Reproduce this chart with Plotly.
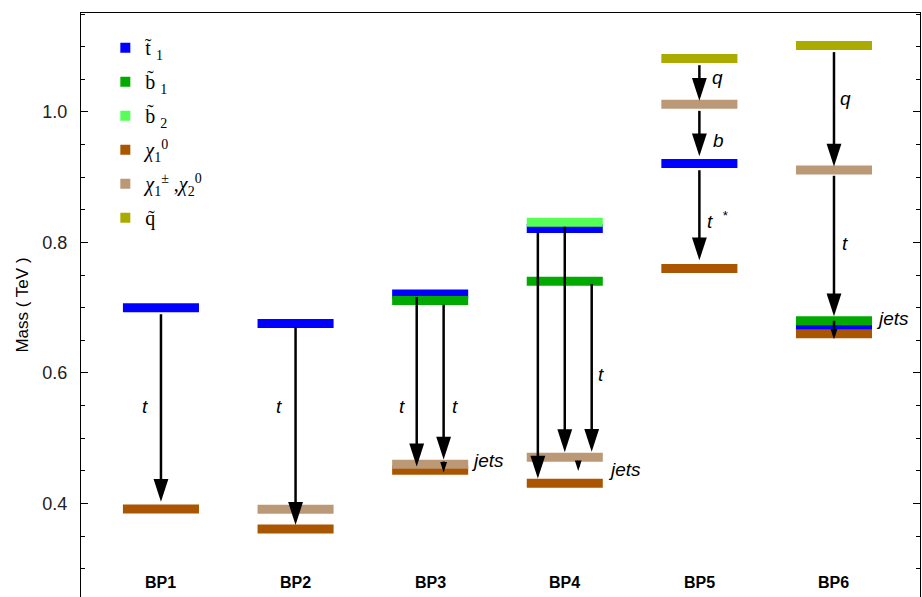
import plotly.graph_objects as go

# ---------------- data ----------------
bp_labels = ["BP1", "BP2", "BP3", "BP4", "BP5", "BP6"]
stop1 = [0.700, 0.676, 0.721, 0.8215, 0.921, 0.671]          # t~_1
sbottom1 = [None, None, 0.711, 0.7405, None, 0.680]            # b~_1
sbottom2 = [None, None, None, 0.831, None, None]               # b~_2
neutralino1 = [0.3915, 0.361, 0.451, 0.431, 0.760, 0.660]      # chi_1^0
chargino = [None, 0.391, 0.460, 0.471, 1.012, 0.911]           # chi_1^+-, chi_2^0
squark = [None, None, None, None, 1.082, 1.102]                # q~

y_ticks = [0.4, 0.6, 0.8, 1.0]
y_range = [0.2567, 1.1517]
x_range = [0.406, 6.639]

series = {
    "stop1": stop1, "sb1": sbottom1, "sb2": sbottom2,
    "neut": neutralino1, "char": chargino, "sq": squark,
}
legend_names = {
    "stop1": "t\u0303 <sub>1</sub>",
    "sb1": "b\u0303 <sub>1</sub>",
    "sb2": "b\u0303 <sub>2</sub>",
    "neut": "<i>\u03c7</i><sub>1</sub><sup>0</sup>",
    "char": "<i>\u03c7</i><sub>1</sub><sup>\u00b1</sup> ,<i>\u03c7</i><sub>2</sub><sup>0</sup>",
    "sq": "q\u0303",
}
colors = {
    "stop1": "#0000FF", "sb1": "#00AA00", "sb2": "#55FF55",
    "neut": "#AA5500", "char": "#BB9977", "sq": "#AAAA00",
}
order = ["stop1", "sb1", "sb2", "neut", "char", "sq"]

# decays: (bp index, x offset, parent, child, tail offset px, tip offset px, kind)
decays = [
    (0, 0.0, "stop1", "neut", 6.5, 7.3, "big"),
    (1, 0.0, "stop1", "neut", 4.2, 4.0, "big"),
    (2, -0.1, "stop1", "neut", 3.0, 3.8, "big"),
    (2, 0.1, "sb1", "char", 4.2, 4.8, "big"),
    (2, 0.1, "char", "neut", -2.8, -2.2, "small"),
    (3, -0.2, "stop1", "neut", 4.2, 4.7, "big"),
    (3, 0.0, "sb2", "char", 4.5, 5.0, "big"),
    (3, 0.2, "sb1", "char", 2.7, 5.3, "big"),
    (3, 0.1, "char", "neut", 3.7, 12.3, "small"),
    (4, 0.0, "sq", "char", 6.7, 3.3, "big"),
    (4, 0.0, "char", "stop1", 6.7, 7.3, "big"),
    (4, 0.0, "stop1", "neut", 6.7, 8.3, "big"),
    (5, 0.0, "sq", "char", 6.7, 3.6, "big"),
    (5, 0.0, "char", "sb1", 5.7, 4.5, "big"),
    (5, 0.0, "sb1", "neut", 0.0, -5.5, "small"),
]

# labels: (text, x, y, xanchor)
labels = [
    ("<i>t</i>", 0.881, 0.549, "center"),
    ("<i>t</i>", 1.874, 0.549, "center"),
    ("<i>t</i>", 2.792, 0.549, "center"),
    ("<i>t</i>", 3.186, 0.549, "center"),
    ("<i>jets</i>", 3.29, 0.466, "left"),
    ("<i>t</i>", 4.267, 0.597, "center"),
    ("<i>jets</i>", 4.305, 0.452, "left"),
    ("<i>q</i>", 5.134, 1.053, "center"),
    ("<i>b</i>", 5.141, 0.957, "center"),
    ("<i>t</i>  <sup>*</sup>", 5.04, 0.835, "left"),
    ("<i>q</i>", 6.082, 1.021, "center"),
    ("<i>t</i>", 6.082, 0.798, "center"),
    ("<i>jets</i>", 6.30, 0.683, "left"),
]

# ---------------- figure ----------------
W, H = 922, 597
ML, MR, MT, MB = 81, 2, 13, 0
PX = (y_range[1] - y_range[0]) / (H - MT - MB)   # data units per pixel
HALF = 0.2825                                     # half width of a level bar

fig = go.Figure()

# mass levels
for key in order:
    xs, ys = [], []
    for i, v in enumerate(series[key]):
        if v is None:
            continue
        xs += [i + 1 - HALF, i + 1 + HALF, None]
        ys += [v, v, None]
    fig.add_trace(go.Scatter(
        x=xs, y=ys, mode="lines",
        line=dict(color=colors[key], width=9),
        showlegend=False, hoverinfo="skip",
    ))

# decay arrows
shaft_x, shaft_y = [], []
heads = {"big": ([], []), "small": ([], [])}
for bp, dx, par, ch, toff, hoff, kind in decays:
    x = bp + 1 + dx
    tail = series[par][bp] - toff * PX
    tip = series[ch][bp] + hoff * PX
    end = tip + (10 if kind == "big" else 4) * PX
    shaft_x += [x, x, None]
    shaft_y += [tail, end, None]
    heads[kind][0].append(x)
    heads[kind][1].append(tip)

fig.add_trace(go.Scatter(
    x=shaft_x, y=shaft_y, mode="lines",
    line=dict(color="black", width=2.5),
    showlegend=False, hoverinfo="skip",
))
for kind, size in (("big", 24), ("small", 11)):
    fig.add_trace(go.Scatter(
        x=heads[kind][0], y=heads[kind][1], mode="markers",
        marker=dict(symbol="arrow", angle=180, size=size, color="black",
                    line=dict(width=0)),
        showlegend=False, hoverinfo="skip", cliponaxis=False,
    ))

# legend entries
for key in order:
    fig.add_trace(go.Scatter(
        x=[None], y=[None], mode="markers", name=legend_names[key],
        legendgroup=key,
        marker=dict(symbol="square", size=10, color=colors[key],
                    line=dict(width=0)),
    ))

annotations = []
for text, x, y, xa in labels:
    annotations.append(dict(
        text=text, x=x, y=y, xref="x", yref="y", showarrow=False,
        xanchor=xa, yanchor="middle",
        font=dict(family="Liberation Sans", size=19, color="black"),
    ))
for i, name in enumerate(bp_labels):
    annotations.append(dict(
        text="<b>" + name + "</b>", x=i + 1, y=0.024, xref="x", yref="paper",
        showarrow=False, xanchor="center", yanchor="middle",
        font=dict(family="Liberation Sans", size=16, color="black"),
    ))

fig.update_layout(
    width=W, height=H,
    margin=dict(l=ML, r=MR, t=MT, b=MB),
    paper_bgcolor="white", plot_bgcolor="white",
    showlegend=True,
    legend=dict(
        x=0.029, y=0.974, xanchor="left", yanchor="top",
        bgcolor="rgba(0,0,0,0)", tracegroupgap=5,
        font=dict(family="Liberation Serif", size=20, color="black"),
        itemwidth=30,
    ),
    annotations=annotations,
    xaxis=dict(
        range=x_range, side="top", showline=True, linecolor="black",
        linewidth=1, showticklabels=False, ticks="", showgrid=False,
        zeroline=False, fixedrange=True,
    ),
    yaxis=dict(
        range=y_range, showline=True, mirror="ticks", linecolor="black",
        linewidth=1, ticks="inside", ticklen=7, tickcolor="black",
        tickvals=y_ticks, ticktext=[f"{v:.1f}" for v in y_ticks],
        tickfont=dict(family="Liberation Sans", size=18, color="#222"),
        ticklabelstandoff=9,
        minor=dict(dtick=0.05, ticks="inside", ticklen=4, tickcolor="black"),
        showgrid=False, zeroline=False,
        title=dict(text="Mass ( TeV )", standoff=9,
                   font=dict(family="Liberation Sans", size=17, color="black")),
    ),
)

fig.write_html(
    "out.html",
    config={"displayModeBar": False},
    post_script="document.body.style.margin='0';document.body.style.overflow='hidden';",
)
